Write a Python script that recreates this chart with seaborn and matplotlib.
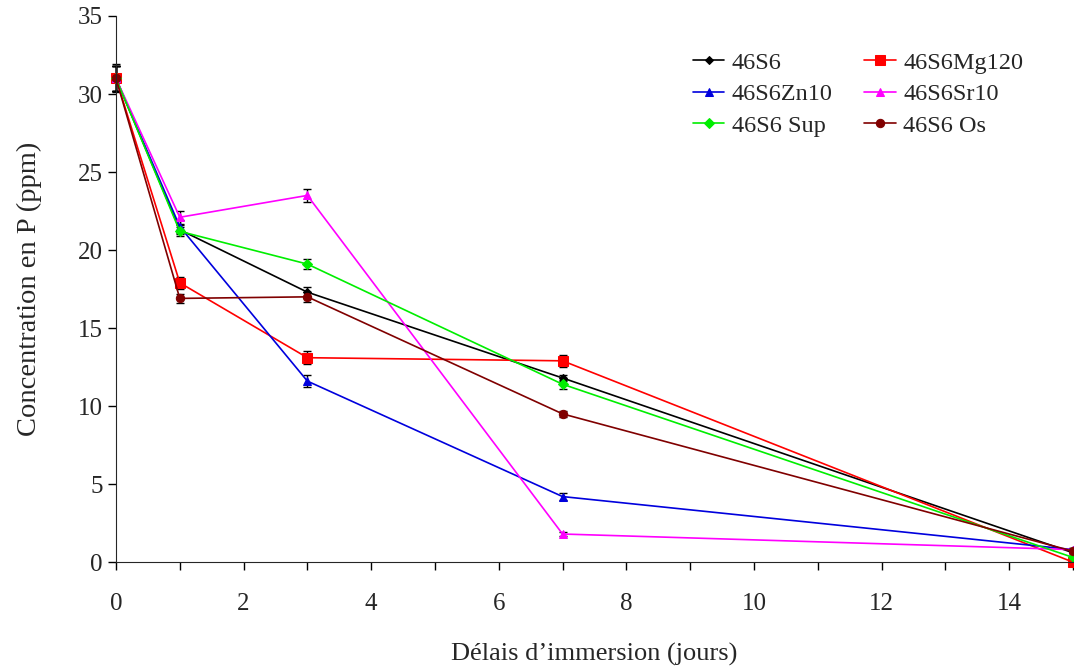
import numpy as np
import pandas as pd
import seaborn as sns
from matplotlib import pyplot as plt
from matplotlib.ticker import MultipleLocator

days = [0, 1, 3, 7, 15]
s46 = [31.0, 21.3, 17.3, 11.8, 0.6]
mg120 = [31.0, 17.9, 13.1, 12.9, 0.0]
zn10 = [31.0, 21.5, 11.6, 4.2, 0.8]
sr10 = [31.0, 22.1, 23.5, 1.8, 0.8]
sup = [31.0, 21.2, 19.1, 11.4, 0.3]
os_ = [31.0, 16.9, 17.0, 9.5, 0.7]

err46 = [0.9, 0.3, 0.3, 0.2, 0.1]
errmg = [0.8, 0.4, 0.4, 0.4, 0.1]
errzn = [0.8, 0.4, 0.4, 0.2, 0.1]
errsr = [0.8, 0.4, 0.4, 0.15, 0.1]
errsup = [0.8, 0.3, 0.3, 0.3, 0.1]
erros = [0.8, 0.3, 0.3, 0.2, 0.1]

names = ['46S6', '46S6Mg120', '46S6Zn10', '46S6Sr10', '46S6 Sup', '46S6 Os']
values = [s46, mg120, zn10, sr10, sup, os_]
errors = [err46, errmg, errzn, errsr, errsup, erros]
colors = ['black', '#ff0000', '#0000dd', '#ff00ff', '#00ee00', '#800000']
markers = ['D', 's', '^', '^', 'D', 'o']
msizes = [4, 7, 6, 6, 5, 6]

sns.set_style('ticks')
plt.rcParams['font.family'] = ['Liberation Serif', 'DejaVu Serif']

fig = plt.figure(figsize=(10.74, 6.66), dpi=100)
ax = fig.add_axes([0.108, 0.156, 0.891, 0.82])

for name, vals, errs, c, m, ms in zip(names, values, errors, colors, markers, msizes):
    df = pd.DataFrame({'day': days, 'conc': vals})
    eb = ax.errorbar(days, vals, yerr=errs, fmt='none', ecolor='black',
                     elinewidth=1, capsize=3, capthick=1, zorder=1)
    for art in eb.lines[1] + eb.lines[2]:
        art.set_clip_on(False)
    sns.lineplot(data=df, x='day', y='conc', ax=ax, color=c, marker=m,
                 markersize=ms, markeredgecolor=c, linewidth=1.2, label=name,
                 zorder=2, clip_on=False)

ax.set_xlim(0, 15)
ax.set_ylim(0, 35)
ax.xaxis.set_major_locator(MultipleLocator(2))
ax.xaxis.set_minor_locator(MultipleLocator(1))
ax.yaxis.set_major_locator(MultipleLocator(5))
ax.tick_params(axis='both', which='both', direction='out', length=6,
               width=1, labelsize=18, color='black')
ax.tick_params(axis='x', pad=16)
ax.set_xlabel('Délais d\u2019immersion (jours)', fontsize=19, labelpad=20)
ax.set_ylabel('Concentration en P (ppm)', fontsize=20.5, labelpad=26)
sns.despine(ax=ax)

# row-wise order like the original legend
handles, labels = ax.get_legend_handles_labels()
order = [0, 2, 4, 1, 3, 5]
ax.legend([handles[i] for i in order], [labels[i] for i in order],
          ncol=2, frameon=False, fontsize=17.5, loc='upper left',
          bbox_to_anchor=(0.58, 0.975), handlelength=1.3, columnspacing=1.3,
          labelspacing=0.4, handletextpad=0.3)

fig.savefig('out.png', dpi=100)
